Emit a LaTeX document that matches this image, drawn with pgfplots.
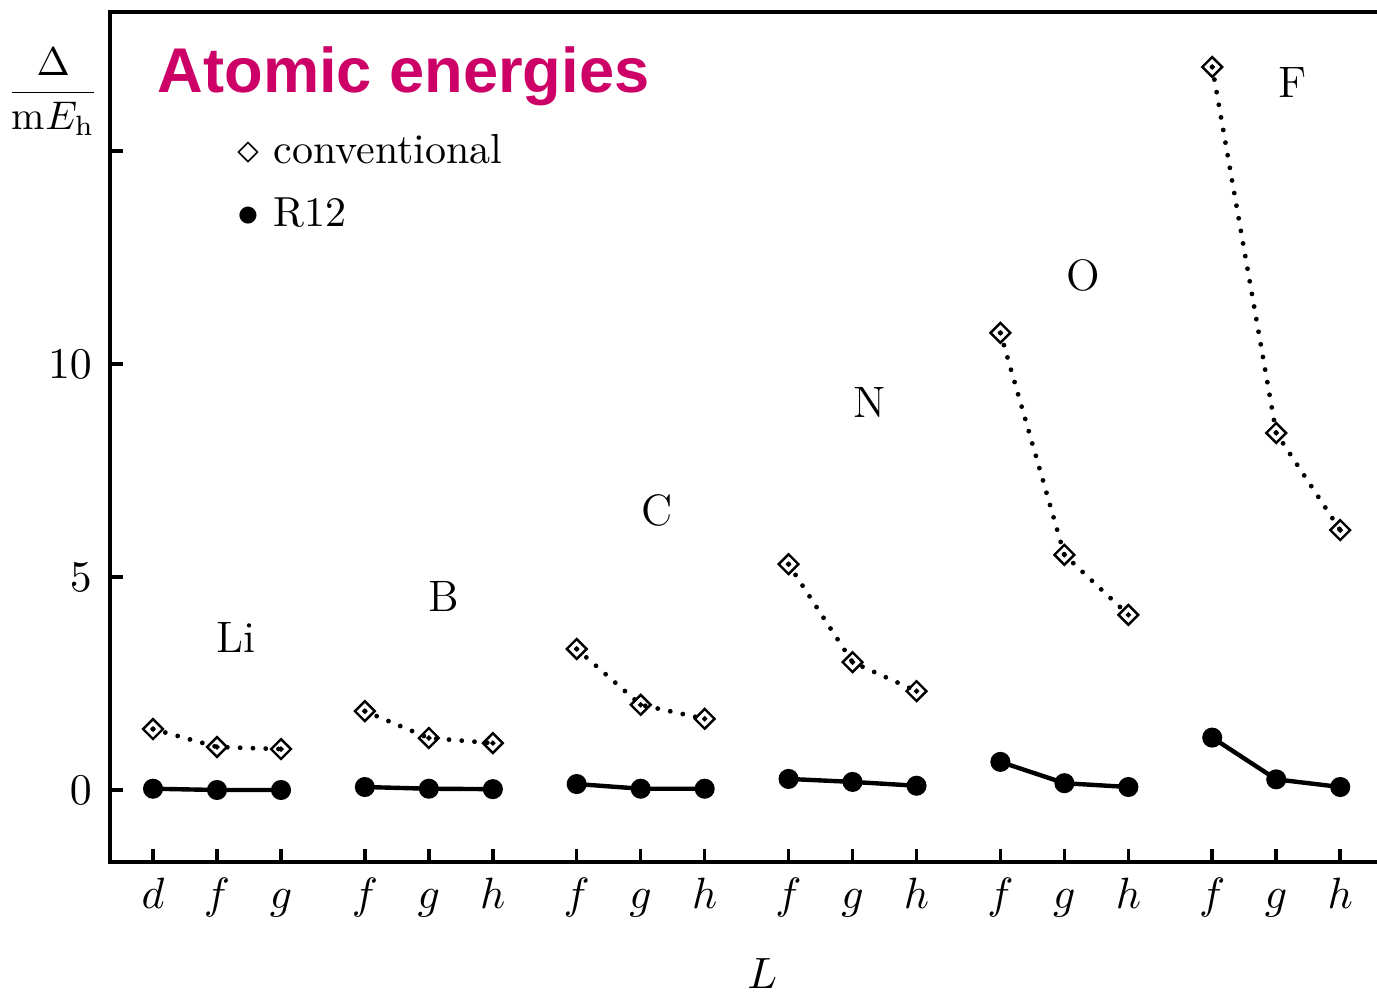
\documentclass[border=0pt]{standalone}
\usepackage{fontspec}
\newfontfamily\titlefont{Liberation Sans}
\usepackage{pgfplots}
\pgfplotsset{compat=1.18}
\definecolor{titlemag}{HTML}{CC0066}

\begin{document}
\begin{tikzpicture}
\begin{axis}[
    scale only axis, width=316.75pt, height=212.5pt,
    xmin=-0.672, xmax=19.125, ymin=-1.69, ymax=18.26,
    axis line style={draw=none},
    tick pos=left, tick align=inside, major tick length=3.2pt,
    tick style={black, line width=0.9pt},
    xtick={0,1,2,3.31,4.31,5.31,6.62,7.62,8.62,9.93,10.93,11.93,13.24,14.24,15.24,16.55,17.55,18.55},
    xticklabels={$d$,$f$,$g$,$f$,$g$,$h$,$f$,$g$,$h$,$f$,$g$,$h$,$f$,$g$,$h$,$f$,$g$,$h$},
    ytick={0,5,10,15}, yticklabels={$0$,$5$,$10$,},
    ticklabel style={font=\fontsize{11}{13}\selectfont},
    xticklabel style={anchor=base, yshift=-11.5pt},
    yticklabel style={xshift=-1pt},
    unbounded coords=jump,
    clip=false,
]
% conventional (dotted line)
\addplot[black, line width=1.2pt, dash pattern=on 0pt off 3.2pt, line cap=round] coordinates {
  (0,1.43) (1,1.01) (2,0.96) (2.6,nan)
  (3.31,1.85) (4.31,1.22) (5.31,1.10) (5.9,nan)
  (6.62,3.31) (7.62,2.00) (8.62,1.67) (9.2,nan)
  (9.93,5.30) (10.93,3.00) (11.93,2.32) (12.5,nan)
  (13.24,10.73) (14.24,5.52) (15.24,4.11) (15.8,nan)
  (16.55,16.97) (17.55,8.38) (18.55,6.10) };
\addplot[only marks, black, mark=square, mark size=1.75pt, mark options={rotate=45, fill=white, line width=0.6pt}] coordinates {
  (0,1.43) (1,1.01) (2,0.96)
  (3.31,1.85) (4.31,1.22) (5.31,1.10)
  (6.62,3.31) (7.62,2.00) (8.62,1.67)
  (9.93,5.30) (10.93,3.00) (11.93,2.32)
  (13.24,10.73) (14.24,5.52) (15.24,4.11)
  (16.55,16.97) (17.55,8.38) (18.55,6.10) };
\addplot[only marks, black, mark=*, mark size=0.45pt] coordinates {
  (0,1.43) (1,1.01) (2,0.96)
  (3.31,1.85) (4.31,1.22) (5.31,1.10)
  (6.62,3.31) (7.62,2.00) (8.62,1.67)
  (9.93,5.30) (10.93,3.00) (11.93,2.32)
  (13.24,10.73) (14.24,5.52) (15.24,4.11)
  (16.55,16.97) (17.55,8.38) (18.55,6.10) };
% R12
\addplot[black, line width=1.1pt, mark=*, mark size=1.95pt, mark options={solid}] coordinates {
  (0,0.03) (1,0.0) (2,0.0) (2.6,nan)
  (3.31,0.07) (4.31,0.03) (5.31,0.02) (5.9,nan)
  (6.62,0.14) (7.62,0.03) (8.62,0.03) (9.2,nan)
  (9.93,0.26) (10.93,0.19) (11.93,0.10) (12.5,nan)
  (13.24,0.66) (14.24,0.16) (15.24,0.07) (15.8,nan)
  (16.55,1.23) (17.55,0.25) (18.55,0.07) };

% frame: left, bottom, top
\draw[line width=1pt] (rel axis cs:1,1) -- (rel axis cs:0,1) -- (rel axis cs:0,0) -- (rel axis cs:1,0);

% element labels
\begin{scope}[every node/.style={font=\fontsize{11}{13}\selectfont}]
\node at (axis cs:1.30,3.57) {Li};
\node at (axis cs:4.55,4.55) {B};
\node at (axis cs:7.875,6.57) {C};
\node at (axis cs:11.2,9.10) {N};
\node at (axis cs:14.53,12.07) {O};
\node at (axis cs:17.81,16.60) {F};
\end{scope}

% legend
\node[anchor=base west, inner sep=0pt, font=\fontsize{10.5}{12.6}\selectfont] at ([xshift=31.75pt, yshift=-38pt]rel axis cs:0,1) {$\diamond$ conventional};
\node[anchor=base west, inner sep=0pt, font=\fontsize{10.5}{12.6}\selectfont] at ([xshift=31.75pt, yshift=-53.75pt]rel axis cs:0,1) {$\bullet$ R12};

% title
\node[anchor=base west, inner sep=0pt, text=titlemag, font=\titlefont\bfseries\fontsize{15.8}{18}\selectfont] at ([xshift=11.75pt, yshift=-20.25pt]rel axis cs:0,1) {Atomic energies};

% y label
\node[font=\fontsize{10}{12}\selectfont] at ([xshift=-14.2pt, yshift=-20pt]rel axis cs:0,1) {$\displaystyle\frac{\Delta}{\mathrm{m}E_{\mathrm{h}}}$};

% x label
\node[anchor=base, inner sep=0pt, font=\fontsize{11}{13}\selectfont] at ([yshift=-31.5pt]axis cs:9.52,-1.69) {$L$};

\coordinate (bbl) at ([xshift=-27.5pt, yshift=-33pt]rel axis cs:0,0);
\coordinate (btr) at ([yshift=3pt]rel axis cs:1,1);
\end{axis}
\pgfresetboundingbox
\path[use as bounding box] (bbl) rectangle (btr);
\end{tikzpicture}
\end{document}
